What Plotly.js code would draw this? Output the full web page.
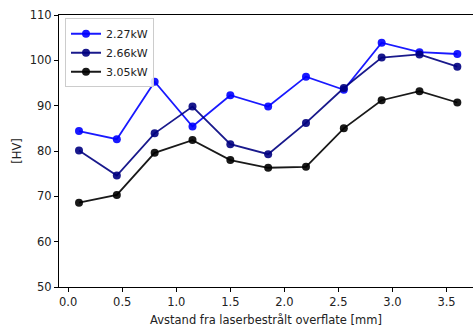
<!DOCTYPE html>
<html>
<head>
<meta charset="utf-8">
<script src="https://cdn.plot.ly/plotly-3.0.1.min.js"></script>
<style>html,body{margin:0;padding:0;background:#fff;}#chart{width:473px;height:331px;}</style>
</head>
<body>
<div id="chart"></div>
<script>
const distance = [0.1, 0.45, 0.8, 1.15, 1.5, 1.85, 2.2, 2.55, 2.9, 3.25, 3.6];
const hv227 = [84.4, 82.6, 95.3, 85.4, 92.3, 89.8, 96.4, 93.5, 103.9, 101.8, 101.4];
const hv266 = [80.1, 74.6, 83.9, 89.8, 81.5, 79.3, 86.2, 93.9, 100.6, 101.3, 98.6];
const hv305 = [68.6, 70.3, 79.6, 82.4, 78.0, 76.3, 76.5, 85.0, 91.2, 93.2, 90.7];
const seriesNames = ['2.27kW', '2.66kW', '3.05kW'];
const seriesColors = ['rgba(0,0,255,0.9)', 'rgba(0,0,128,0.9)', 'rgba(0,0,0,0.9)'];
const xTicks = [0.0, 0.5, 1.0, 1.5, 2.0, 2.5, 3.0, 3.5];
const yTicks = [50, 60, 70, 80, 90, 100, 110];

const ys = [hv227, hv266, hv305];
const traces = ys.map((y, i) => ({
  x: distance, y: y, name: seriesNames[i], type: 'scatter', mode: 'lines+markers',
  line: {color: seriesColors[i], width: 1.8},
  marker: {color: seriesColors[i], size: 8}
}));

const font = {family: 'DejaVu Sans', size: 11.5, color: '#222'};
const legendFont = {family: 'DejaVu Sans', size: 11, color: '#222'};
const layout = {
  width: 473, height: 331,
  margin: {l: 59, r: 0, t: 15, b: 44},
  paper_bgcolor: '#fff', plot_bgcolor: '#fff',
  font: font,
  showlegend: true,
  legend: {x: 0.0145, y: 0.988, xanchor: 'left', yanchor: 'top',
    bgcolor: 'rgba(255,255,255,0.85)', bordercolor: '#cccccc', borderwidth: 1,
    font: legendFont, tracegroupgap: 0},
  xaxis: {
    range: [-0.085, 3.745], tickvals: xTicks, ticktext: xTicks.map(v => v.toFixed(1)),
    showgrid: false, zeroline: false, showline: true, mirror: true, linecolor: '#000', linewidth: 1,
    ticks: 'outside', ticklen: 4, tickcolor: '#000', tickfont: font,
    title: {text: 'Avstand fra laserbestrålt overflate [mm]', font: font, standoff: 8}
  },
  yaxis: {
    range: [50, 110], tickvals: yTicks, ticktext: yTicks.map(String),
    showgrid: false, zeroline: false, showline: true, mirror: false, linecolor: '#000', linewidth: 1,
    ticks: 'outside', ticklen: 4, tickcolor: '#000', tickfont: font,
    title: {text: '[HV]', font: font, standoff: 5}
  }
};
Plotly.newPlot('chart', traces, layout, {displayModeBar: false, staticPlot: true});
</script>
</body>
</html>
